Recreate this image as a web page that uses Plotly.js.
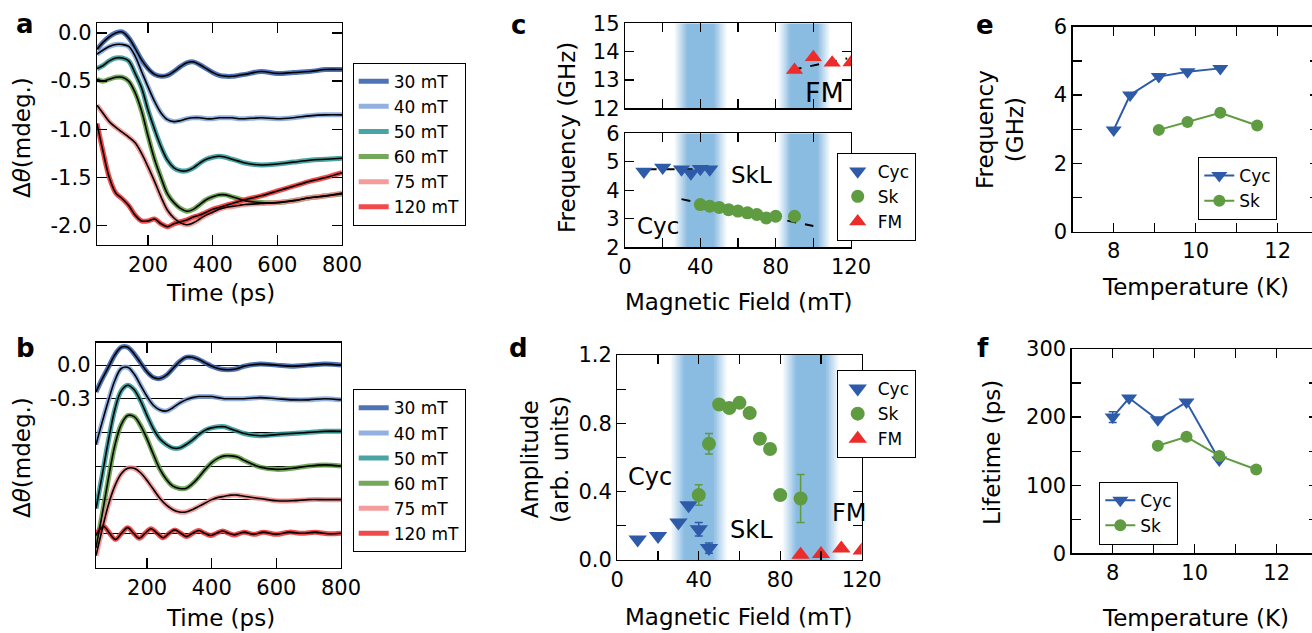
<!DOCTYPE html>
<html><head><meta charset="utf-8">
<script src="https://cdn.plot.ly/plotly-3.0.1.min.js"></script>
<style>html,body{margin:0;padding:0;overflow:hidden;background:#fff;width:1312px;height:633px}#chart{width:1320px;height:633px}</style>
</head><body><div id="chart"></div>
<script>
// ---------------- DATA ----------------
const fieldLabels = ['30 mT','40 mT','50 mT','60 mT','75 mT','120 mT'];
const fieldColors = ['#2f5ca8','#7fa3dc','#2a9494','#5c9a40','#f28a8a','#ee2a2a'];

// panel a : time traces (ps, mdeg)
const timeA = [42,60,80,100,120,140,160,180,200,220,240,260,280,300,320,340,360,380,400,420,440,460,480,500,550,600,650,700,750,800];
const a30  = [-0.17,-0.10,-0.04,0.00,0.01,-0.05,-0.16,-0.28,-0.37,-0.43,-0.45,-0.44,-0.40,-0.35,-0.31,-0.30,-0.33,-0.37,-0.41,-0.44,-0.45,-0.45,-0.44,-0.43,-0.40,-0.42,-0.41,-0.40,-0.38,-0.38];
const a40  = [-0.22,-0.18,-0.14,-0.12,-0.12,-0.14,-0.24,-0.40,-0.56,-0.71,-0.83,-0.90,-0.92,-0.91,-0.89,-0.88,-0.88,-0.89,-0.89,-0.88,-0.88,-0.88,-0.89,-0.89,-0.88,-0.89,-0.88,-0.86,-0.85,-0.85];
const a50  = [-0.37,-0.34,-0.29,-0.26,-0.26,-0.29,-0.42,-0.57,-0.80,-1.00,-1.18,-1.32,-1.40,-1.43,-1.43,-1.40,-1.35,-1.31,-1.29,-1.28,-1.29,-1.31,-1.33,-1.35,-1.37,-1.36,-1.34,-1.32,-1.31,-1.30];
const a60  = [-0.48,-0.50,-0.48,-0.46,-0.46,-0.50,-0.62,-0.81,-1.07,-1.31,-1.50,-1.67,-1.76,-1.82,-1.85,-1.83,-1.78,-1.73,-1.70,-1.68,-1.68,-1.70,-1.72,-1.74,-1.76,-1.76,-1.74,-1.71,-1.69,-1.67];
const a75  = [-0.75,-0.83,-0.92,-0.98,-1.03,-1.08,-1.14,-1.25,-1.39,-1.54,-1.70,-1.84,-1.92,-1.97,-1.99,-1.97,-1.93,-1.89,-1.86,-1.83,-1.81,-1.80,-1.79,-1.78,-1.77,-1.76,-1.74,-1.71,-1.69,-1.66];
const a120 = [-0.94,-1.22,-1.50,-1.66,-1.72,-1.79,-1.89,-1.95,-1.95,-1.93,-1.98,-2.01,-1.98,-1.96,-1.94,-1.91,-1.89,-1.86,-1.83,-1.81,-1.79,-1.77,-1.75,-1.73,-1.69,-1.64,-1.59,-1.54,-1.50,-1.45];

// panel b : oscillatory part, relative to each baseline
const timeB = timeA;
const b30 = [-0.24,-0.13,-0.02,0.09,0.16,0.16,0.10,0.02,-0.06,-0.11,-0.12,-0.09,-0.03,0.03,0.07,0.07,0.05,0.02,-0.01,-0.03,-0.04,-0.04,-0.03,-0.01,0.01,0.00,-0.01,0.00,0.01,0.00];
const b40 = [-0.41,-0.22,-0.02,0.16,0.27,0.28,0.22,0.12,0.02,-0.06,-0.10,-0.11,-0.08,-0.04,-0.01,0.01,0.02,0.02,0.02,0.01,0.00,0.00,0.00,0.00,0.01,0.00,-0.01,-0.01,0.00,-0.01];
const b50 = [-0.68,-0.40,-0.08,0.20,0.37,0.42,0.38,0.28,0.15,0.03,-0.06,-0.11,-0.14,-0.14,-0.11,-0.07,-0.02,0.02,0.04,0.05,0.05,0.03,0.01,-0.01,-0.03,-0.02,-0.01,0.00,0.01,0.01];
const b60 = [-0.73,-0.45,-0.12,0.18,0.37,0.45,0.44,0.36,0.24,0.10,-0.03,-0.12,-0.18,-0.20,-0.20,-0.16,-0.10,-0.03,0.03,0.07,0.09,0.09,0.08,0.05,-0.01,-0.03,-0.02,0.00,0.01,0.00];
const b75 = [-0.50,-0.28,-0.05,0.12,0.23,0.28,0.28,0.24,0.17,0.09,0.01,-0.05,-0.09,-0.11,-0.11,-0.09,-0.06,-0.03,0.00,0.02,0.03,0.04,0.04,0.03,0.01,-0.01,-0.01,0.00,0.00,0.00];
const timeB120 = [42,50,66,84,102,121,140,158,176,194,212,231,250,268,286,304,322,341,360,378,396,415,434,452,470,500,530,560,600,640,680,720,760,800];
const b120 = [-0.02,0.02,0.06,0.00,-0.055,0.00,0.05,0.00,-0.045,0.00,0.04,0.00,-0.04,0.00,0.03,0.00,-0.03,0.00,0.025,0.00,-0.02,0.00,0.02,0.00,-0.015,0.01,-0.01,0.01,-0.01,0.01,0.00,0.01,-0.005,0.00];
const offsetsB = [0,-0.3,-0.6,-0.9,-1.2,-1.5];

// panel c : frequency vs field
const cCycField = [10,20,30,35,40,45];
const cCycFreq  = [4.66,4.80,4.74,4.60,4.76,4.74];
const cSkField  = [40,45,50,55,60,65,70,75,80,90];
const cSkFreq   = [3.50,3.44,3.40,3.32,3.27,3.21,3.15,3.03,3.09,3.09];
const cFMField  = [90,100,110,120];
const cFMFreq   = [13.35,13.80,13.61,13.62];
const fitCycField = [12,47], fitCycFreq = [4.74,4.74];
const fitSkField  = [30,100], fitSkFreq  = [3.69,2.75];
const fitFMField  = [89,118], fitFMFreq  = [13.36,13.76];

// panel d : amplitude vs field
const dCycField = [10,20,30,35,40,45];
const dCycAmp   = [0.12,0.14,0.22,0.32,0.18,0.07];
const dCycErr   = [0,0,0,0,0.04,0.03];
const dSkField  = [40,45,50,55,60,65,70,75,80,90];
const dSkAmp    = [0.38,0.68,0.91,0.89,0.92,0.86,0.71,0.65,0.38,0.36];
const dSkErr    = [0.06,0.06,0,0,0,0,0,0,0,0.14];
const dFMField  = [90,100,110,120];
const dFMAmp    = [0.03,0.035,0.068,0.055];

// phase-boundary bands (mT): outer edges of the shaded regions
const bandLo = [26,81], bandHi = [54,109];

// panels e, f : temperature dependence
const eCycT = [8.0,8.4,9.1,9.8,10.6];
const eCycFreq = [2.98,4.00,4.54,4.68,4.78];
const eSkT = [9.1,9.8,10.6,11.5];
const eSkFreq = [2.98,3.21,3.48,3.11];
const fCycLife = [200,228,196,222,137];
const fCycErr = [8,0,0,0,0];
const fSkLife = [158,171,143,123];

// ---------------- STYLE / LAYOUT ----------------
const W = 1320, H = 633;
const FONT = 'DejaVu Sans, Liberation Sans, Arial, sans-serif';
const BLUE = '#2d5ba9', GREEN = '#5e9b41', RED = '#ec2b2b';
const fx = p => p / W, fy = p => 1 - p / H;

function axis(o) {
  return Object.assign({
    showline: true, linecolor: 'black', linewidth: 1.3, mirror: 'ticks',
    ticks: 'inside', ticklen: 9, tickwidth: 1.3, tickcolor: 'black',
    showgrid: false, zeroline: false, fixedrange: true, tickmode: 'array',
    tickfont: {family: FONT, size: 21, color: 'black'}
  }, o);
}

const traces = [];

// gradient bands as smooth heatmaps (drawn first, below everything)
const FADE = 7;
const bandScale = [[0, 'rgb(255,255,255)'], [1, 'rgb(138,187,225)']];
[['x3','y3',12,15],['x4','y4',2,6],['x5','y5',0,1.2]].forEach(([xr, yr, y0, y1]) => {
  bandLo.forEach((lo, b) => {
    const hi = bandHi[b];
    const steps = 80, edges = [], z = [];
    for (let k = 0; k <= steps; k++) edges.push(lo + (hi - lo) * k / steps);
    for (let k = 0; k < steps; k++) {
      const c = (edges[k] + edges[k + 1]) / 2;
      z.push(Math.max(0, Math.min(1, (c - lo) / FADE, (hi - c) / FADE)));
    }
    traces.push({type: 'heatmap', x: edges, y: [y0, y1], z: [z], xaxis: xr, yaxis: yr,
      colorscale: bandScale, zmin: 0, zmax: 1, showscale: false, hoverinfo: 'skip', showlegend: false});
  });
});

const seriesA = [a30, a40, a50, a60, a75, a120];
const seriesB = [b30, b40, b50, b60, b75, b120];

seriesA.forEach((s, i) => {
  traces.push({x: timeA, y: s, xaxis: 'x', yaxis: 'y', mode: 'lines', name: fieldLabels[i],
    legend: 'legend', line: {color: fieldColors[i], width: 5, shape: 'spline', smoothing: 1}, opacity: 0.85});
});
seriesA.forEach((s, i) => {
  traces.push({x: timeA, y: s, xaxis: 'x', yaxis: 'y', mode: 'lines', showlegend: false,
    line: {color: 'black', width: 1.6, shape: 'spline', smoothing: 1}});
});
seriesB.forEach((s, i) => {
  const t = i === 5 ? timeB120 : timeB;
  traces.push({x: t, y: s.map(v => v + offsetsB[i]), xaxis: 'x2', yaxis: 'y2', mode: 'lines', name: fieldLabels[i],
    legend: 'legend2', line: {color: fieldColors[i], width: 5, shape: 'spline', smoothing: 1}, opacity: 0.85});
});
seriesB.forEach((s, i) => {
  const t = i === 5 ? timeB120 : timeB;
  traces.push({x: t, y: s.map(v => v + offsetsB[i]), xaxis: 'x2', yaxis: 'y2', mode: 'lines', showlegend: false,
    line: {color: 'black', width: 1.6, shape: 'spline', smoothing: 1}});
});

// panel c
const dash = {color: 'black', width: 2, dash: 'dash'};
traces.push({x: fitCycField, y: fitCycFreq, xaxis: 'x4', yaxis: 'y4', mode: 'lines', line: dash, showlegend: false});
traces.push({x: fitSkField, y: fitSkFreq, xaxis: 'x4', yaxis: 'y4', mode: 'lines', line: dash, showlegend: false});
traces.push({x: fitFMField, y: fitFMFreq, xaxis: 'x3', yaxis: 'y3', mode: 'lines', line: dash, showlegend: false});
traces.push({x: cCycField, y: cCycFreq, xaxis: 'x4', yaxis: 'y4', mode: 'markers', name: 'Cyc', legend: 'legend3',
  marker: {symbol: 'triangle-down', size: 15, color: BLUE}});
traces.push({x: cSkField, y: cSkFreq, xaxis: 'x4', yaxis: 'y4', mode: 'markers', name: 'Sk', legend: 'legend3',
  marker: {symbol: 'circle', size: 13, color: GREEN}});
traces.push({x: cFMField, y: cFMFreq, xaxis: 'x3', yaxis: 'y3', mode: 'markers', name: 'FM', legend: 'legend3',
  marker: {symbol: 'triangle-up', size: 15, color: RED}});

// panel d
traces.push({x: dCycField, y: dCycAmp, xaxis: 'x5', yaxis: 'y5', mode: 'markers', name: 'Cyc', legend: 'legend4',
  marker: {symbol: 'triangle-down', size: 16, color: BLUE},
  error_y: {type: 'data', array: dCycErr, color: BLUE, thickness: 1.5, width: 4}});
traces.push({x: dSkField, y: dSkAmp, xaxis: 'x5', yaxis: 'y5', mode: 'markers', name: 'Sk', legend: 'legend4',
  marker: {symbol: 'circle', size: 14, color: GREEN},
  error_y: {type: 'data', array: dSkErr, color: GREEN, thickness: 1.5, width: 4}});
traces.push({x: dFMField, y: dFMAmp, xaxis: 'x5', yaxis: 'y5', mode: 'markers', name: 'FM', legend: 'legend4',
  marker: {symbol: 'triangle-up', size: 16, color: RED}});

// panel e
traces.push({x: eCycT, y: eCycFreq, xaxis: 'x6', yaxis: 'y6', mode: 'lines+markers', name: 'Cyc', legend: 'legend5',
  line: {color: BLUE, width: 2}, marker: {symbol: 'triangle-down', size: 14, color: BLUE}});
traces.push({x: eSkT, y: eSkFreq, xaxis: 'x6', yaxis: 'y6', mode: 'lines+markers', name: 'Sk', legend: 'legend5',
  line: {color: GREEN, width: 2}, marker: {symbol: 'circle', size: 12, color: GREEN}});
// panel f
traces.push({x: eCycT, y: fCycLife, xaxis: 'x7', yaxis: 'y7', mode: 'lines+markers', name: 'Cyc', legend: 'legend6',
  line: {color: BLUE, width: 2}, marker: {symbol: 'triangle-down', size: 14, color: BLUE},
  error_y: {type: 'data', array: fCycErr, color: BLUE, thickness: 1.5, width: 4}});
traces.push({x: eSkT, y: fSkLife, xaxis: 'x7', yaxis: 'y7', mode: 'lines+markers', name: 'Sk', legend: 'legend6',
  line: {color: GREEN, width: 2}, marker: {symbol: 'circle', size: 12, color: GREEN}});

function ann(text, x, y, size, o) {
  return Object.assign({text, x: fx(x), y: fy(y), xref: 'paper', yref: 'paper', showarrow: false,
    xanchor: 'center', yanchor: 'middle', font: {family: FONT, size, color: 'black'}}, o || {});
}
function dann(text, x, y, xr, yr, size) {
  return {text, x, y, xref: xr, yref: yr, showarrow: false, xanchor: 'center', yanchor: 'middle',
    font: {family: FONT, size, color: 'black'}};
}
const TS = 23;
const annotations = [
  ann('<b>a</b>', 25, 24, 26), ann('<b>b</b>', 25, 348, 26), ann('<b>c</b>', 518, 25, 26),
  ann('<b>d</b>', 518, 348, 26), ann('<b>e</b>', 985, 25, 26), ann('<b>f</b>', 983, 348, 26),
  ann('Δ<i>θ</i>(mdeg.)', 22, 138, TS, {textangle: -90}),
  ann('Time (ps)', 220, 293, TS),
  ann('Δ<i>θ</i>(mdeg.)', 22, 458, TS, {textangle: -90}),
  ann('Time (ps)', 220, 618, TS),
  ann('Frequency (GHz)', 567, 138, TS, {textangle: -90}),
  ann('Magnetic Field (mT)', 738, 302, TS),
  ann('Amplitude<br>(arb. units)', 545, 460, TS, {textangle: -90}),
  ann('Magnetic Field (mT)', 738, 617, TS),
  ann('Frequency<br>(GHz)', 1000, 130, TS, {textangle: -90}),
  ann('Temperature (K)', 1195, 287, TS),
  ann('Lifetime (ps)', 992, 452, TS, {textangle: -90}),
  ann('Temperature (K)', 1195, 618, TS),
  dann('SkL', 67, 4.54, 'x4', 'y4', 23),
  dann('Cyc', 17.7, 2.75, 'x4', 'y4', 23),
  dann('FM', 106, 12.56, 'x3', 'y3', 27),
  dann('Cyc', 15.9, 0.484, 'x5', 'y5', 24),
  dann('SkL', 65.9, 0.176, 'x5', 'y5', 24),
  dann('FM', 114, 0.277, 'x5', 'y5', 24)
];

function leg(x, y) {
  return {x: fx(x), y: fy(y), xanchor: 'left', yanchor: 'top', bgcolor: 'white', bordercolor: 'black',
    borderwidth: 1, font: {family: FONT, size: 17, color: 'black'}, itemclick: false, itemdoubleclick: false};
}

const fieldTicks = [0,20,40,60,80,100,120];
const fieldText = ['0','','40','','80','','120'];
const layout = {
  width: W, height: H, margin: {l: 0, r: 0, t: 0, b: 0},
  paper_bgcolor: 'white', plot_bgcolor: 'white', showlegend: true,
  font: {family: FONT, color: 'black'},
  xaxis: axis({domain: [fx(97), fx(342)], range: [42, 800], anchor: 'y',
    tickvals: [200,400,600,800], ticktext: ['200','400','600','800'], ticklen: 10}),
  yaxis: axis({domain: [fy(245), fy(23.3)], range: [-2.2, 0.1], anchor: 'x',
    tickvals: [0,-0.5,-1,-1.5,-2], ticktext: ['0.0','-0.5','-1.0','-1.5','-2.0'], ticklen: 10}),
  xaxis2: axis({domain: [fx(96), fx(341)], range: [42, 800], anchor: 'y2',
    tickvals: [200,400,600,800], ticktext: ['200','400','600','800'], ticklen: 10}),
  yaxis2: axis({domain: [fy(568), fy(342.7)], range: [-1.81, 0.2], anchor: 'x2', ticks: '', mirror: true,
    tickvals: offsetsB, ticktext: ['0.0','-0.3','','','',''], showgrid: true, gridcolor: 'black', gridwidth: 1}),
  xaxis3: axis({domain: [fx(625), fx(851)], range: [0, 120], anchor: 'y3',
    tickvals: fieldTicks, ticktext: fieldTicks.map(() => ''), showticklabels: false}),
  yaxis3: axis({domain: [fy(108.3), fy(23.3)], range: [12, 15], anchor: 'x3',
    tickvals: [12,13,14,15], ticktext: ['12','13','14','15']}),
  xaxis4: axis({domain: [fx(625), fx(851)], range: [0, 120], anchor: 'y4',
    tickvals: fieldTicks, ticktext: fieldText}),
  yaxis4: axis({domain: [fy(247.3), fy(133.3)], range: [2, 6], anchor: 'x4',
    tickvals: [2,3,4,5,6], ticktext: ['2','3','4','5','6']}),
  xaxis5: axis({domain: [fx(617.3), fx(861.7)], range: [0, 120], anchor: 'y5',
    tickvals: fieldTicks, ticktext: fieldText}),
  yaxis5: axis({domain: [fy(560), fy(355)], range: [0, 1.2], anchor: 'x5',
    tickvals: [0,0.2,0.4,0.6,0.8,1.0,1.2], ticktext: ['0.0','','0.4','','0.8','','1.2']}),
  xaxis6: axis({domain: [fx(1072.7), fx(1318.7)], range: [7, 13], anchor: 'y6',
    tickvals: [8,9,10,11,12], ticktext: ['8','','10','','12']}),
  yaxis6: axis({domain: [fy(231.7), fy(26.7)], range: [0, 6], anchor: 'x6',
    tickvals: [0,1,2,3,4,5,6], ticktext: ['0','','2','','4','','6']}),
  xaxis7: axis({domain: [fx(1071.7), fx(1317.7)], range: [7, 13], anchor: 'y7',
    tickvals: [8,9,10,11,12], ticktext: ['8','','10','','12']}),
  yaxis7: axis({domain: [fy(553.3), fy(349)], range: [0, 300], anchor: 'x7',
    tickvals: [0,50,100,150,200,250,300], ticktext: ['0','','100','','200','','300']}),
  legend: leg(352.7, 62.7),
  legend2: leg(352.7, 389.3),
  legend3: leg(836.7, 152.7),
  legend4: leg(836.7, 370),
  legend5: leg(1198.3, 157),
  legend6: leg(1099.3, 481.7),
  annotations
};

Plotly.newPlot('chart', traces, layout, {displayModeBar: false, staticPlot: true});
</script></body></html>
